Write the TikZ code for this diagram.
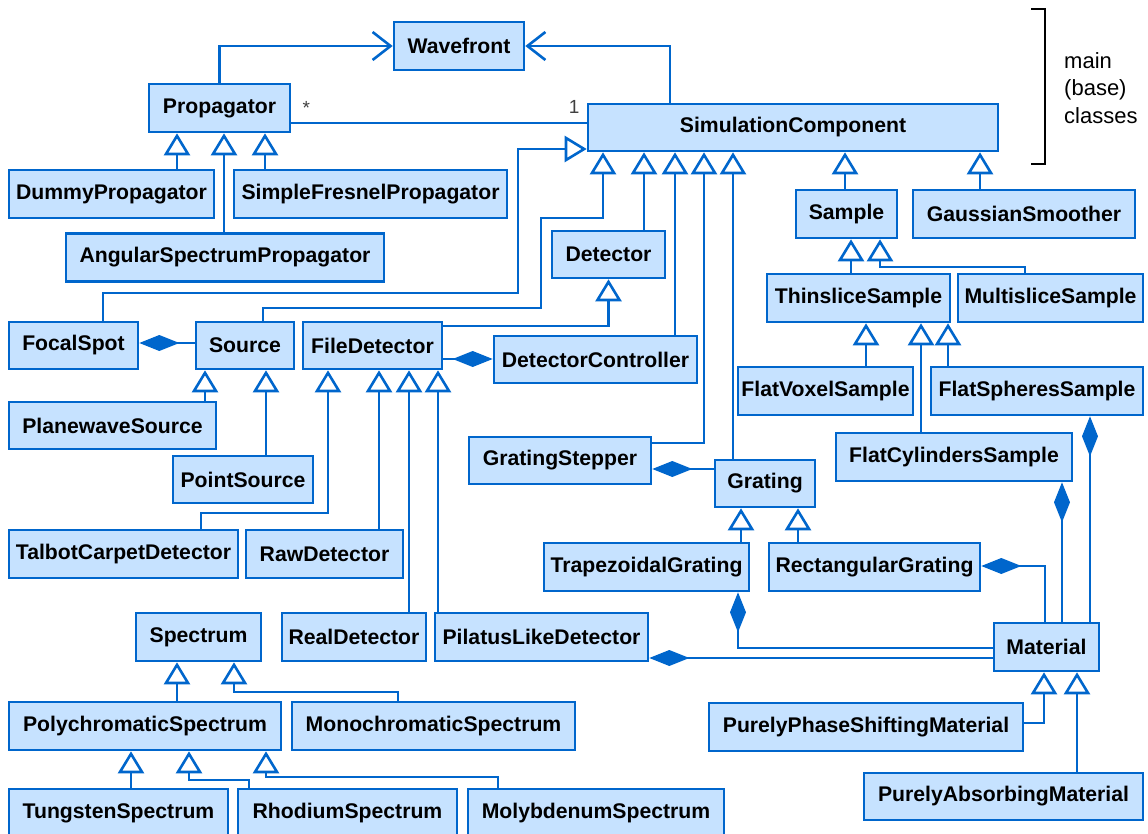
\documentclass[tikz,border=0pt]{standalone}
\usepackage{fontspec}
\setmainfont{Liberation Sans}
\usetikzlibrary{arrows.meta, calc}
\definecolor{umlblue}{RGB}{0,102,204}
\definecolor{umlfill}{RGB}{198,226,255}
\tikzset{
    cls/.style={draw=umlblue, fill=umlfill, line width=2.6pt, minimum height=48pt, inner sep=0pt, font=\fontsize{21.2}{24}\selectfont\bfseries},
    uline/.style={draw=umlblue, line width=2.6pt},
    gen/.style={uline, -{Triangle[open, length=22pt, width=26pt, fill=white]}},
    comp/.style={uline, {Diamond[length=40pt, width=16pt]}-},
    assoc/.style={uline, -{Straight Barb[length=18pt, width=28pt]}},
    mult/.style={text=black!75, font=\fontsize{19}{21}\selectfont, inner sep=2pt}
}
\begin{document}
\begin{tikzpicture}[x=1pt,y=-1pt]
        \useasboundingbox (0,0) rectangle (1148,834);
        \clip (0,0) rectangle (1148,834);
        %main classes
        \node[cls, minimum width=130] (wave) at (459,46) {Wavefront};
        \node[cls, minimum width=141] (prop) at (219.5,108) {Propagator};
        \node[cls, minimum width=410, minimum height=47] (simc) at (793,127.5) {SimulationComponent};
        %propagators
        \node[cls, minimum width=205] (dummy) at (111.5,194) {DummyPropagator};
        \node[cls, minimum width=273] (fresnel) at (370.5,194) {SimpleFresnelPropagator};
        \node[cls, minimum width=318] (angular) at (225,257.5) {AngularSpectrumPropagator};
        %samples
        \node[cls, minimum width=101] (sample) at (846.5,214) {Sample};
        \node[cls, minimum width=222] (gauss) at (1024,214) {GaussianSmoother};
        \node[cls, minimum width=183] (thin) at (858.5,298) {ThinsliceSample};
        \node[cls, minimum width=185] (multi) at (1050.5,298) {MultisliceSample};
        \node[cls, minimum width=175] (voxel) at (825.5,391) {FlatVoxelSample};
        \node[cls, minimum width=212] (spheres) at (1037,391) {FlatSpheresSample};
        \node[cls, minimum width=236] (cyl) at (954,457) {FlatCylindersSample};
        %sources and detectors
        \node[cls, minimum width=129, minimum height=47] (focal) at (73.5,345.5) {FocalSpot};
        \node[cls, minimum width=98, minimum height=47] (source) at (245,345.5) {Source};
        \node[cls, minimum width=139, minimum height=47] (filedet) at (372.5,345.5) {FileDetector};
        \node[cls, minimum width=203, minimum height=47] (detctrl) at (595.5,359.5) {DetectorController};
        \node[cls, minimum width=113, minimum height=47] (detector) at (608.5,254.5) {Detector};
        \node[cls, minimum width=207, minimum height=47] (plane) at (112.5,425.5) {PlanewaveSource};
        \node[cls, minimum width=140, minimum height=47] (point) at (243,479.5) {PointSource};
        \node[cls, minimum width=229] (talbot) at (123.5,554) {TalbotCarpetDetector};
        \node[cls, minimum width=157] (raw) at (324.5,554) {RawDetector};
        \node[cls, minimum width=144] (real) at (354,637) {RealDetector};
        \node[cls, minimum width=213] (pilatus) at (541.5,637) {PilatusLikeDetector};
        %gratings and materials
        \node[cls, minimum width=182, minimum height=47] (stepper) at (560,460.5) {GratingStepper};
        \node[cls, minimum width=100, minimum height=47] (grating) at (765,483.5) {Grating};
        \node[cls, minimum width=205] (trap) at (646.5,567) {TrapezoidalGrating};
        \node[cls, minimum width=211] (rect) at (874.5,567) {RectangularGrating};
        \node[cls, minimum width=105] (material) at (1046.5,647) {Material};
        \node[cls, minimum width=314] (phase) at (866,727) {PurelyPhaseShiftingMaterial};
        \node[cls, minimum width=279, minimum height=47] (absorb) at (1003.5,796.5) {PurelyAbsorbingMaterial};
        %spectra
        \node[cls, minimum width=125] (spectrum) at (198.5,637) {Spectrum};
        \node[cls, minimum width=272] (poly) at (145,726) {PolychromaticSpectrum};
        \node[cls, minimum width=283] (mono) at (433.5,726) {MonochromaticSpectrum};
        \node[cls, minimum width=219] (tung) at (118.5,813) {TungstenSpectrum};
        \node[cls, minimum width=219] (rhod) at (347.5,813) {RhodiumSpectrum};
        \node[cls, minimum width=256] (molyb) at (596,813) {MolybdenumSpectrum};
        %associations
        \draw[assoc] (prop.north) |- (wave.west);
        \draw[assoc] (simc.north -| 670,0) |- (wave.east);
        \draw[uline] (prop.east |- 0,123) -- node[mult, at start, anchor=south west, xshift=8pt, yshift=5pt] (mstar) {*} node[mult, at end, anchor=south east, xshift=-4pt, yshift=6pt] (mone) {1} (simc.west |- 0,123);
        %generalizations to SimulationComponent
        \draw[gen] (focal.north -| 103,0) |- (518,293) |- (simc.west |- 0,149);
        \draw[gen] (source.north -| 263,0) |- (541,308) |- (603,218) -- (simc.south -| 603,0);
        \draw[gen] (detector.north -| 644,0) -- (simc.south -| 644,0);
        \draw[gen] (detctrl.north -| 675,0) -- (simc.south -| 675,0);
        \draw[gen] (stepper.east |- 0,443) -| (simc.south -| 704,0);
        \draw[gen] (grating.north -| 733,0) -- (simc.south -| 733,0);
        \draw[gen] (sample.north -| 845,0) -- (simc.south -| 845,0);
        \draw[gen] (gauss.north -| 980,0) -- (simc.south -| 980,0);
        %propagators
        \draw[gen] (dummy.north -| 177,0) -- (prop.south -| 177,0);
        \draw[gen] (angular.north -| 224,0) -- (prop.south -| 224,0);
        \draw[gen] (fresnel.north -| 265,0) -- (prop.south -| 265,0);
        %sources and detectors
        \draw[gen] (filedet.east |- 0,326) -| (detector.south);
        \draw[gen] (plane.north -| 205,0) -- (source.south -| 205,0);
        \draw[gen] (point.north -| 266,0) -- (source.south -| 266,0);
        \draw[gen] (talbot.north -| 201,0) |- (328,513) -- (filedet.south -| 328,0);
        \draw[gen] (raw.north -| 379,0) -- (filedet.south -| 379,0);
        \draw[gen] (real.north -| 409,0) -- (filedet.south -| 409,0);
        \draw[gen] (pilatus.north -| 438,0) -- (filedet.south -| 438,0);
        %samples
        \draw[gen] (thin.north -| 851,0) -- (sample.south -| 851,0);
        \draw[gen] (multi.north -| 1025,0) |- (880,267) -- (sample.south -| 880,0);
        \draw[gen] (voxel.north -| 866,0) -- (thin.south -| 866,0);
        \draw[gen] (cyl.north -| 921,0) -- (thin.south -| 921,0);
        \draw[gen] (spheres.north -| 948,0) -- (thin.south -| 948,0);
        %gratings and materials
        \draw[gen] (trap.north -| 741,0) -- (grating.south -| 741,0);
        \draw[gen] (rect.north -| 798,0) -- (grating.south -| 798,0);
        \draw[gen] (phase.east |- 0,723) -| (material.south -| 1044,0);
        \draw[gen] (absorb.north -| 1077,0) -- (material.south -| 1077,0);
        %spectra
        \draw[gen] (poly.north -| 177,0) -- (spectrum.south -| 177,0);
        \draw[gen] (mono.north -| 398,0) |- (234,692) -- (spectrum.south -| 234,0);
        \draw[gen] (tung.north -| 131,0) -- (poly.south -| 131,0);
        \draw[gen] (rhod.north -| 249,0) |- (189,780) -- (poly.south -| 189,0);
        \draw[gen] (molyb.north -| 498,0) |- (266,777) -- (poly.south -| 266,0);
        %compositions
        \draw[comp] (focal.east |- 0,343) -- (source.west |- 0,343);
        \draw[comp] (detctrl.west |- 0,359) -- (filedet.east |- 0,359);
        \draw[comp] (stepper.east |- 0,469) -- (grating.west |- 0,469);
        \draw[comp] (spheres.south -| 1090,0) -- (material.north -| 1090,0);
        \draw[comp] (cyl.south -| 1062,0) -- (material.north -| 1062,0);
        \draw[comp] (rect.east |- 0,566) -| (material.north -| 1045,0);
        \draw[comp] (trap.south -| 738,0) |- (material.west |- 0,648);
        \draw[comp] (pilatus.east |- 0,658) -- (material.west |- 0,658);
        %bracket
        \draw[line width=2.6pt] (1031,9) -- (1045,9) -- (1045,164) -- (1031,164);
        \node[anchor=west, align=left, inner sep=0pt, font=\fontsize{22}{27.5}\selectfont] (mainlbl) at (1064,88) {main\\(base)\\classes};
\end{tikzpicture}
\end{document}
